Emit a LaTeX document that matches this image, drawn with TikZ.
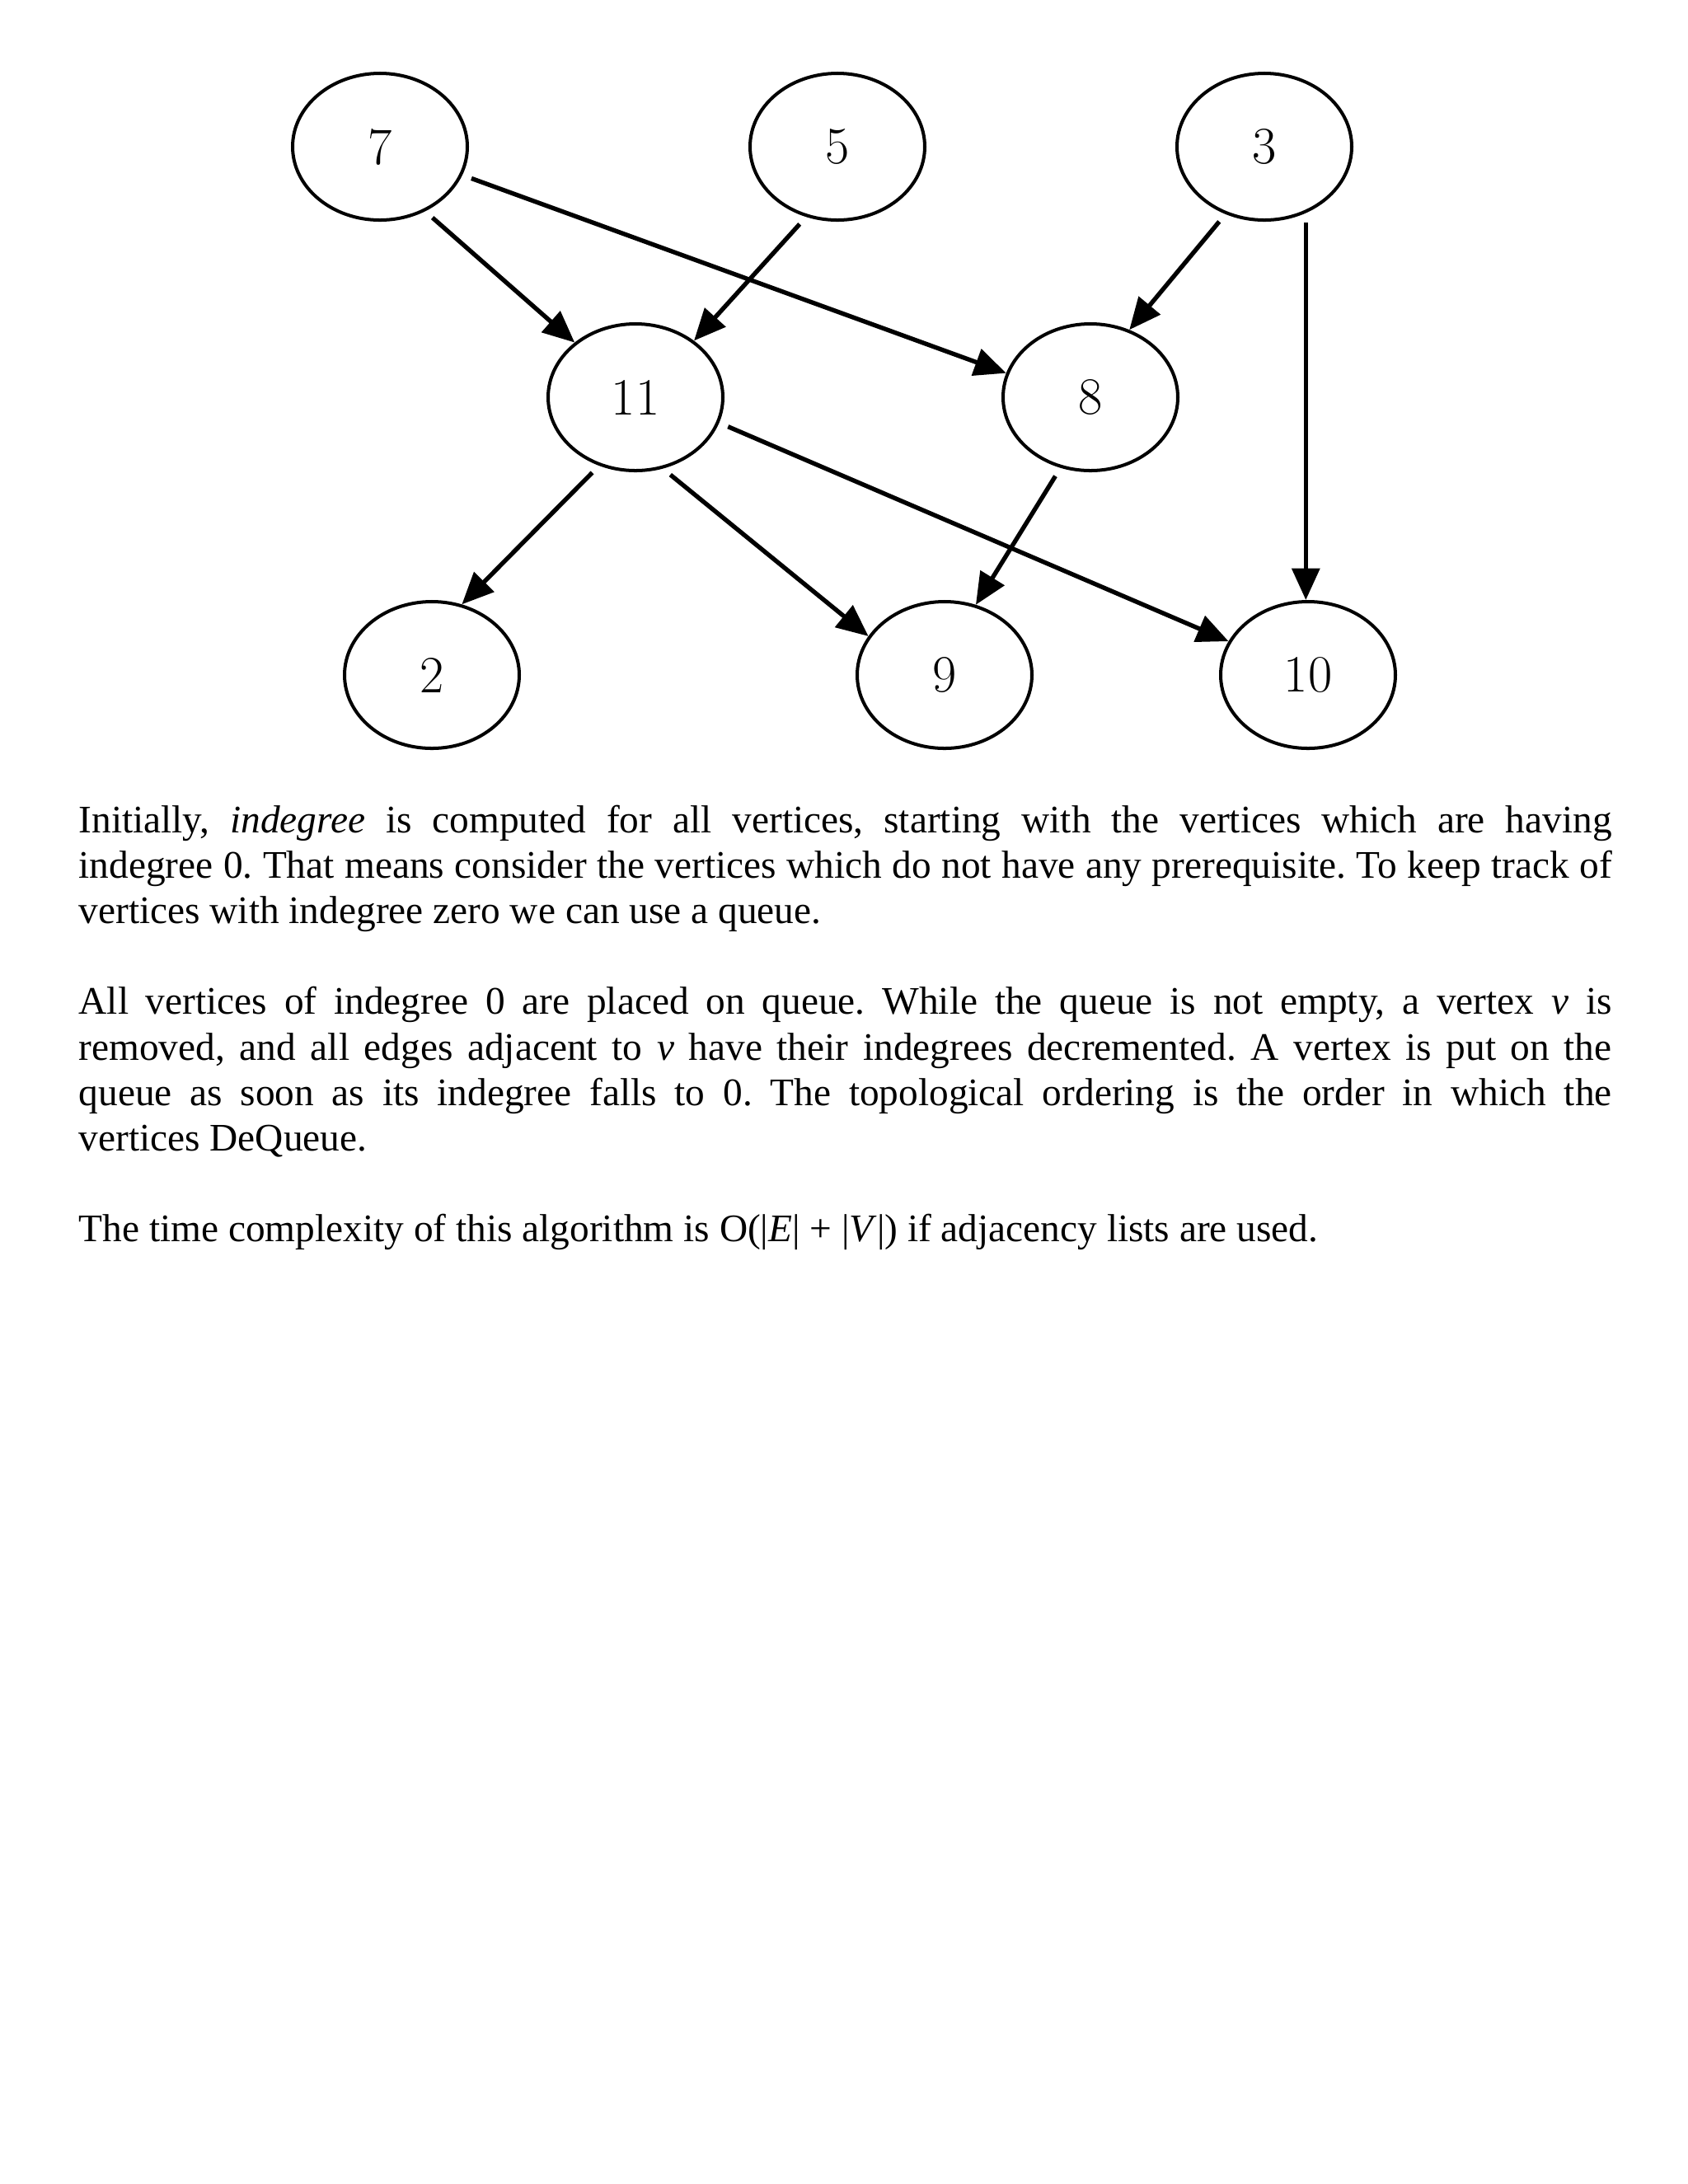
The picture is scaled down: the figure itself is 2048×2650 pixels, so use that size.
\documentclass[tikz,border=0pt]{standalone}
\usepackage{fontspec}
\newfontfamily\timesfont{Liberation Serif}
\usetikzlibrary{arrows.meta,shapes.geometric}
\tikzset{
  vertex/.style={ellipse,draw,line width=1.2pt,minimum width=63.35pt,minimum height=53.2pt,inner sep=0pt,font=\fontsize{19}{22}\selectfont},
  edge/.style={line width=1.6pt,-{Triangle[length=11.5pt,width=10pt]},shorten <=3.5pt},
  para/.style={anchor=base west,inner sep=0pt,text width=555.8pt,align=justify,font=\timesfont\fontsize{14.15}{16.5}\selectfont}
}
\begin{document}
\begin{tikzpicture}[x=0.29883pt,y=-0.29883pt]
\useasboundingbox (0,0) rectangle (2048,2650);
\node[vertex] (n7) at (461,178) {7};
\node[vertex] (n5) at (1016,178) {5};
\node[vertex] (n3) at (1534,178) {3};
\node[vertex] (n11) at (771,482) {11};
\node[vertex] (n8) at (1323,482) {8};
\node[vertex] (n2) at (524,819) {2};
\node[vertex] (n9) at (1146,819) {9};
\node[vertex] (n10) at (1587,819) {10};
\draw[edge] (n7.-55.6) -- (n11.138.9);
\draw[edge] (n7.-19.1) -- (n8.164.3);
\draw[edge] (n5.-114) -- (n11.44.6);
\draw[edge] (n3.-120) -- (n8.60.7);
\draw[edge] (n3.-58) -- (n3.-58 |- n10.north);
\draw[edge] (n11.-118.3) -- (n2.67);
\draw[edge] (n11.-69.7) -- (n9.153.9);
\draw[edge] (n11.-17) -- (n10.157.9);
\draw[edge] (n8.-113.1) -- (n9.66.9);
\node[para] (txt) at (95,1010) {\frenchspacing\spaceskip=.25em plus .6em minus .12em\relax
Initially, \textit{indegree} is computed for all vertices, starting with the vertices which are having\linebreak
indegree 0. That means consider the vertices which do not have any prerequisite. To keep track of\linebreak
vertices with indegree zero we can use a queue.\par\vspace{16.5pt}
All vertices of indegree 0 are placed on queue. While the queue is not empty, a vertex \textit{v} is\linebreak
removed, and all edges adjacent to \textit{v} have their indegrees decremented. A vertex is put on the\linebreak
queue as soon as its indegree falls to 0. The topological ordering is the order in which the\linebreak
vertices DeQueue.\par\vspace{16.5pt}
The time complexity of this algorithm is O(|\textit{E}| + |\textit{V}|) if adjacency lists are used.\par};
\end{tikzpicture}
\end{document}
